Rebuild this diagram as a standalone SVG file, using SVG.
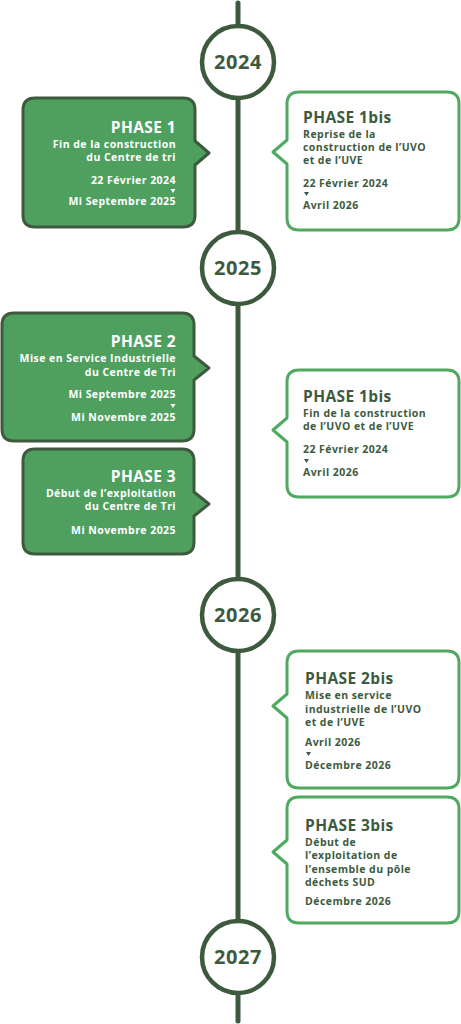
<svg xmlns="http://www.w3.org/2000/svg" width="461" height="1024" viewBox="0 0 461 1024">
<style>
.line{stroke:#3e5a3e;stroke-width:5;stroke-linecap:round;fill:none}
.yr circle{fill:#fff;stroke:#3e5a3e;stroke-width:4.5}
.yr text{font-family:"Open Sans","Liberation Sans",sans-serif;font-weight:700;font-size:20px;letter-spacing:0.6px;fill:#3e5a3e;text-anchor:middle}
.dk path{fill:#4fa05f;stroke:#3e5a3e;stroke-width:3;stroke-linejoin:round}
.lt path{fill:#fff;stroke:#4fa960;stroke-width:3;stroke-linejoin:round}
.t{font-family:"Open Sans","Liberation Sans",sans-serif;font-weight:700}
.h{font-size:15.5px;letter-spacing:0.4px}
.b{font-size:10.5px;letter-spacing:0.45px}
.dk text{fill:#fff;text-anchor:end}
.lt text{fill:#3e5a3e}
.dk .tri{fill:#fff;stroke:none}
.lt .tri{fill:#3e5a3e;stroke:none}
</style>
<g id="connectors">
<line class="line" x1="238" y1="3" x2="238" y2="1021"/>
</g>
<g id="y2024" class="yr"><circle cx="238" cy="62" r="36"/><text x="238" y="69">2024</text></g>
<g id="y2025" class="yr"><circle cx="238" cy="268" r="36"/><text x="238" y="275">2025</text></g>
<g id="y2026" class="yr"><circle cx="238" cy="615" r="36"/><text x="238" y="622">2026</text></g>
<g id="y2027" class="yr"><circle cx="238" cy="957" r="36"/><text x="238" y="964">2027</text></g>

<g id="phase1" class="dk">
<path d="M35,98 H183 Q195,98 195,110 V141 L209,153 L195,165 V215 Q195,227 183,227 H35 Q23,227 23,215 V110 Q23,98 35,98 Z"/>
<text class="t h" x="176" y="133">PHASE 1</text>
<text class="t b" x="176" y="148">Fin de la construction</text>
<text class="t b" x="176" y="161">du Centre de tri</text>
<text class="t b" x="176" y="184">22 Février 2024</text>
<path class="tri" d="M170.5,189 H175.5 L173,193 Z"/>
<text class="t b" x="176" y="205">Mi Septembre 2025</text>
</g>

<g id="phase1bis-a" class="lt">
<path d="M299,92 H447 Q459,92 459,104 V218 Q459,230 447,230 H299 Q287,230 287,218 V164 L273,152 L287,140 V104 Q287,92 299,92 Z"/>
<text class="t h" x="303" y="123">PHASE 1bis</text>
<text class="t b" x="303" y="138">Reprise de la</text>
<text class="t b" x="303" y="151">construction de l’UVO</text>
<text class="t b" x="303" y="164">et de l’UVE</text>
<text class="t b" x="303" y="187">22 Février 2024</text>
<path class="tri" d="M304,192 H309 L306.5,196 Z"/>
<text class="t b" x="303" y="209">Avril 2026</text>
</g>

<g id="phase2" class="dk">
<path d="M14,313 H182 Q194,313 194,325 V356 L209,368 L194,380 V429 Q194,441 182,441 H14 Q2,441 2,429 V325 Q2,313 14,313 Z"/>
<text class="t h" x="176" y="347">PHASE 2</text>
<text class="t b" x="176" y="362">Mise en Service Industrielle</text>
<text class="t b" x="176" y="376">du Centre de Tri</text>
<text class="t b" x="176" y="398">Mi Septembre 2025</text>
<path class="tri" d="M170.5,404 H175.5 L173,408 Z"/>
<text class="t b" x="176" y="421">Mi Novembre 2025</text>
</g>

<g id="phase3" class="dk">
<path d="M35,449 H182 Q194,449 194,461 V492 L209,504 L194,516 V542 Q194,554 182,554 H35 Q23,554 23,542 V461 Q23,449 35,449 Z"/>
<text class="t h" x="176" y="482">PHASE 3</text>
<text class="t b" x="176" y="497">Début de l’exploitation</text>
<text class="t b" x="176" y="510">du Centre de Tri</text>
<text class="t b" x="176" y="534">Mi Novembre 2025</text>
</g>

<g id="phase1bis-b" class="lt">
<path d="M299,370 H447 Q459,370 459,382 V485 Q459,497 447,497 H299 Q287,497 287,485 V442 L273,430 L287,418 V382 Q287,370 299,370 Z"/>
<text class="t h" x="303" y="402">PHASE 1bis</text>
<text class="t b" x="303" y="417">Fin de la construction</text>
<text class="t b" x="303" y="430">de l’UVO et de l’UVE</text>
<text class="t b" x="303" y="453">22 Février 2024</text>
<path class="tri" d="M304,459 H309 L306.5,463 Z"/>
<text class="t b" x="303" y="476">Avril 2026</text>
</g>

<g id="phase2bis" class="lt">
<path d="M299,651 H447 Q459,651 459,663 V776 Q459,788 447,788 H299 Q287,788 287,776 V718 L273,706 L287,694 V663 Q287,651 299,651 Z"/>
<text class="t h" x="305" y="684">PHASE 2bis</text>
<text class="t b" x="305" y="699">Mise en service</text>
<text class="t b" x="305" y="713">industrielle de l’UVO</text>
<text class="t b" x="305" y="726">et de l’UVE</text>
<text class="t b" x="305" y="746">Avril 2026</text>
<path class="tri" d="M306,752 H311 L308.5,756 Z"/>
<text class="t b" x="305" y="769">Décembre 2026</text>
</g>

<g id="phase3bis" class="lt">
<path d="M299,797 H447 Q459,797 459,809 V911 Q459,923 447,923 H299 Q287,923 287,911 V864 L273,852 L287,840 V809 Q287,797 299,797 Z"/>
<text class="t h" x="305" y="831">PHASE 3bis</text>
<text class="t b" x="305" y="846">Début de</text>
<text class="t b" x="305" y="859">l’exploitation de</text>
<text class="t b" x="305" y="873">l’ensemble du pôle</text>
<text class="t b" x="305" y="886">déchets SUD</text>
<text class="t b" x="305" y="905">Décembre 2026</text>
</g>
</svg>
